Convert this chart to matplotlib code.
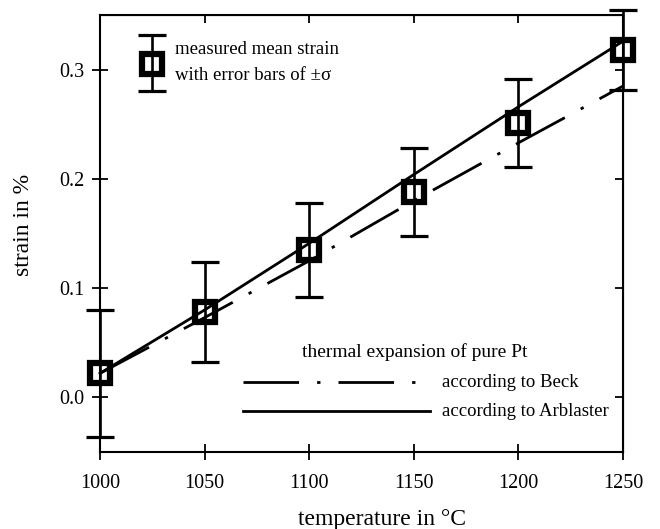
import matplotlib
matplotlib.use("Agg")
from matplotlib import pyplot as plt
from matplotlib.lines import Line2D

plt.rcParams['font.family'] = ['Liberation Serif', 'DejaVu Serif']

# measured mean strain with +/- sigma
temp = [1000, 1050, 1100, 1150, 1200, 1250]
strain_mean = [0.022, 0.078, 0.135, 0.188, 0.251, 0.318]
strain_sigma = [0.058, 0.046, 0.043, 0.040, 0.040, 0.037]

# thermal expansion of pure Pt
beck = [0.022, 0.073, 0.125, 0.180, 0.233, 0.285]
arblaster = [0.022, 0.080, 0.141, 0.204, 0.266, 0.326]

xticks = [1000, 1050, 1100, 1150, 1200, 1250]
yticks = [0.0, 0.1, 0.2, 0.3]

fig = plt.figure(figsize=(6.6, 5.29), dpi=100)
ax = fig.add_axes([0.1515, 0.1456, 0.7925, 0.826])

lw = 2.0
beck_ls = (0, (20, 6.5, 1.2, 6.5))
mark_style = dict(ls='none', marker='s', ms=15, mfc='white', mec='black',
                  mew=4.5, zorder=2)
bar_style = dict(fmt='none', ecolor='black', elinewidth=1.9, capsize=10,
                 capthick=2.3, zorder=4)

# squares first, lines and bars on top (as in the original print)
ax.plot(temp, strain_mean, clip_on=False, **mark_style)
ax.plot(temp, beck, color='black', lw=lw, ls=beck_ls, clip_on=False, zorder=3)
ax.plot(temp, arblaster, color='black', lw=lw, clip_on=False, zorder=3)
ax.errorbar(temp, strain_mean, yerr=strain_sigma, clip_on=False, **bar_style)

ax.set_xlim(1000, 1250)
ax.set_ylim(-0.05, 0.35)
ax.set_xticks(xticks)
ax.set_yticks(yticks)
ax.set_yticklabels([f"{v:.1f}" for v in yticks])
ax.tick_params(axis='both', which='major', direction='inout', length=11,
               width=1.3, labelsize=14.5, pad=6)
ax.tick_params(axis='x', pad=10)
for side in ['left', 'bottom', 'top', 'right']:
    ax.spines[side].set_linewidth(1.5)

# inward ticks on the top and right
top = ax.secondary_xaxis('top')
top.set_xticks(xticks)
top.tick_params(direction='in', length=6, width=1.3, labeltop=False)
right = ax.secondary_yaxis('right')
right.set_yticks(yticks)
right.tick_params(direction='in', length=6, width=1.3, labelright=False)

fig.text(382 / 660, 1 - 519 / 529, "temperature in °C", fontsize=17,
         ha='center', va='center')
fig.text(24 / 660, 1 - 225 / 529, "strain in %", fontsize=17,
         ha='center', va='center', rotation=90)

# legend for the measurement
ax.plot([1025], [0.305], **mark_style)
ax.errorbar([1025], [0.305], yerr=[[0.025], [0.027]], **bar_style)
ax.text(1036, 0.318, "measured mean strain", fontsize=13.5, va='center')
ax.text(1036, 0.295, "with error bars of \u00b1\u03c3", fontsize=13.5, va='center')

# legend for the Pt expansion curves
ax.text(1096.5, 0.0413, "thermal expansion of pure Pt", fontsize=14, va='center')
ax.add_line(Line2D([1068.5, 1157.5], [0.0138, 0.0138], color='black', lw=lw,
                   ls=beck_ls))
ax.add_line(Line2D([1068.5, 1157.5], [-0.0128, -0.0128], color='black', lw=lw))
ax.text(1163.5, 0.0138, "according to Beck", fontsize=13.5, va='center')
ax.text(1163.5, -0.0128, "according to Arblaster", fontsize=13.5, va='center')

fig.savefig("out.png", dpi=100)
